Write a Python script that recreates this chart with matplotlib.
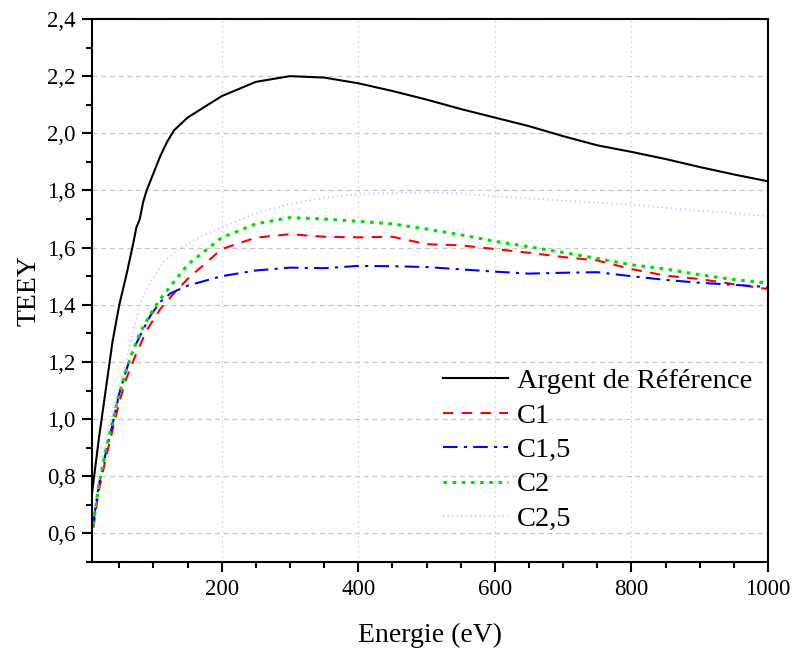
import matplotlib
matplotlib.use('Agg')
import matplotlib.pyplot as plt
from matplotlib.ticker import MultipleLocator, FuncFormatter

plt.rcParams['font.family'] = ['Liberation Serif', 'DejaVu Serif']

# Argent de Reference
x_ref = [10, 20, 30, 40, 50, 60, 70, 75, 80, 85, 90, 100, 110, 120, 130, 150, 200, 250, 300, 350,
         400, 450, 500, 550, 600, 650, 700, 750, 800, 850, 900, 950, 1000]
y_ref = [0.74, 0.93, 1.10, 1.27, 1.40, 1.50, 1.61, 1.67, 1.70, 1.76, 1.80, 1.86, 1.92, 1.97, 2.01, 2.055,
         2.13, 2.18, 2.20, 2.195, 2.175, 2.148, 2.118, 2.085, 2.055, 2.025, 1.99, 1.958, 1.935, 1.91,
         1.882, 1.856, 1.832]

x_c1 = [12, 20, 30, 40, 50, 60, 75, 90, 110, 130, 150, 200, 250, 300, 350, 400, 450, 500, 550,
        600, 650, 700, 750, 800, 850, 900, 950, 1000]
y_c1 = [0.62, 0.75, 0.86, 0.96, 1.06, 1.14, 1.23, 1.31, 1.385, 1.44, 1.49, 1.595, 1.635, 1.647,
        1.638, 1.636, 1.638, 1.612, 1.608, 1.595, 1.582, 1.567, 1.555, 1.525, 1.502, 1.49, 1.472, 1.455]

x_c15 = [12, 20, 30, 40, 50, 60, 70, 80, 95, 110, 125, 150, 200, 250, 300, 350, 400, 450, 500,
         550, 600, 650, 700, 750, 800, 850, 900, 950, 1000]
y_c15 = [0.64, 0.77, 0.88, 0.98, 1.09, 1.17, 1.24, 1.29, 1.36, 1.41, 1.44, 1.467, 1.50, 1.52, 1.53,
         1.528, 1.536, 1.535, 1.532, 1.524, 1.516, 1.509, 1.512, 1.514, 1.50, 1.487, 1.477, 1.47, 1.462]

x_c2 = [12, 20, 30, 40, 50, 60, 70, 80, 95, 110, 125, 150, 200, 250, 300, 350, 400, 450, 500,
        550, 600, 650, 700, 750, 800, 850, 900, 950, 1000]
y_c2 = [0.63, 0.77, 0.89, 0.99, 1.09, 1.17, 1.24, 1.30, 1.365, 1.42, 1.465, 1.54, 1.635, 1.683,
        1.705, 1.70, 1.692, 1.683, 1.665, 1.645, 1.622, 1.603, 1.583, 1.562, 1.54, 1.525, 1.505,
        1.488, 1.476]

x_c25 = [12, 20, 30, 40, 50, 60, 70, 80, 95, 115, 140, 170, 200, 250, 300, 350, 400, 450, 500,
         550, 600, 650, 700, 750, 800, 850, 900, 950, 1000]
y_c25 = [0.66, 0.79, 0.92, 1.03, 1.12, 1.20, 1.30, 1.40, 1.477, 1.55, 1.60, 1.64, 1.67, 1.72,
         1.753, 1.774, 1.788, 1.791, 1.793, 1.79, 1.779, 1.772, 1.764, 1.757, 1.75, 1.74, 1.729,
         1.72, 1.71]

fig = plt.figure(figsize=(7.95, 6.5), dpi=100)
ax = fig.add_axes([0.1157, 0.1354, 0.8503, 0.8354])

ax.plot(x_ref, y_ref, color='black', lw=1.5, ls='-', label='Argent de Référence')
ax.plot(x_c1, y_c1, color='#ff0000', lw=1.5, ls=(0, (5, 4)), label='C1')
ax.plot(x_c15, y_c15, color='#0000ff', lw=1.5, ls=(0, (7, 3, 1.5, 3)), label='C1,5')
ax.plot(x_c2, y_c2, color='#00dd00', lw=2.2, ls=(0, (1.2, 1.8)), label='C2')
ax.plot(x_c25, y_c25, color='#d4c8ff', lw=1.5, ls=(0, (0.6, 1.6)), label='C2,5')

ax.set_xlim(10, 1000)
ax.set_ylim(0.5, 2.4)
ax.xaxis.set_major_locator(MultipleLocator(200))
ax.xaxis.set_minor_locator(MultipleLocator(50))
ax.yaxis.set_major_locator(MultipleLocator(0.2))
ax.yaxis.set_minor_locator(MultipleLocator(0.1))
ax.yaxis.set_major_formatter(FuncFormatter(lambda v, p: ('%.1f' % v).replace('.', ',')))

ax.grid(True, which='major', axis='y', color='#c8c8c8', ls=(0, (4, 3)), lw=0.9)
ax.grid(True, which='major', axis='x', color='#c8c8c8', ls=(0, (1, 3)), lw=0.9)
ax.set_axisbelow(True)

ax.tick_params(which='major', direction='out', length=7, width=1.5, labelsize=16.5, pad=5)
ax.tick_params(which='minor', direction='out', length=4, width=1.5)
for s in ax.spines.values():
    s.set_linewidth(1.5)

ax.set_xlabel('Energie (eV)', fontsize=20, labelpad=17)
ax.set_ylabel('TEEY', fontsize=20, labelpad=4)

ax.legend(loc='upper left', bbox_to_anchor=(0.519, 0.357), frameon=False, fontsize=20.5,
          handlelength=2.3, handletextpad=0.3, labelspacing=0.3, borderaxespad=0, borderpad=0)

fig.savefig('out.png', dpi=100)
